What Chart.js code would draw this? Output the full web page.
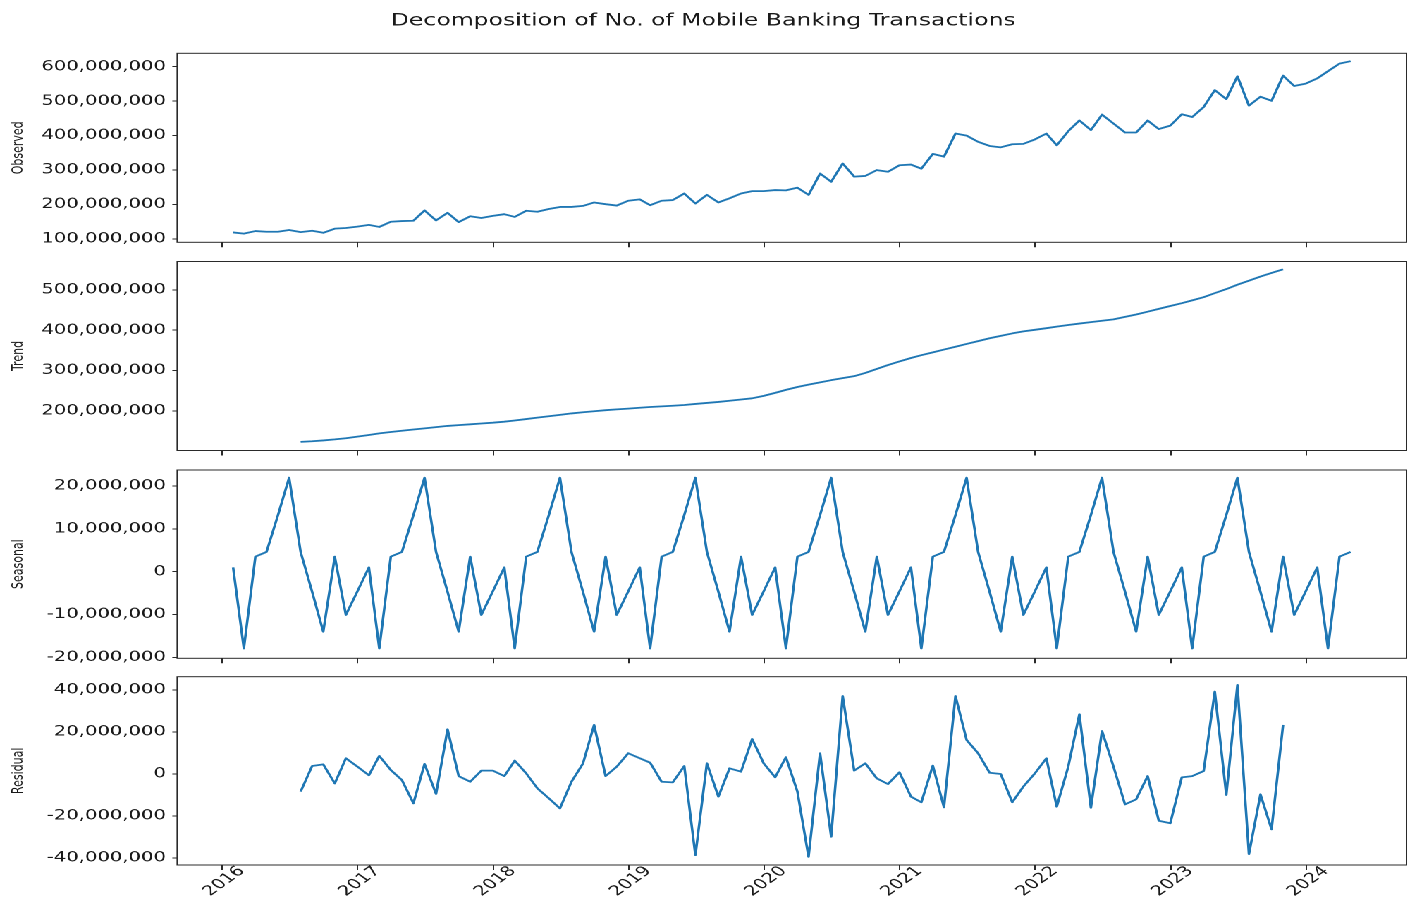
<!DOCTYPE html>
<html>
<head>
<meta charset="utf-8">
<script src="https://cdn.jsdelivr.net/npm/chart.js@4.4.1/dist/chart.umd.min.js"></script>
<style>
  html, body { margin: 0; padding: 0; background: #fff; }
  /* figure is laid out 1000px wide, then stretched to the page width */
  #fig { position: absolute; left: 0; top: 0; width: 1000px; height: 902px;
         transform: scaleX(1.41); transform-origin: 0 0; }
  #fig canvas { position: absolute; left: 0; top: 0; }
</style>
</head>
<body>
<div id="fig">
  <canvas id="observed" width="1000" height="902"></canvas>
  <canvas id="trend" width="1000" height="902"></canvas>
  <canvas id="seasonal" width="1000" height="902"></canvas>
  <canvas id="residual" width="1000" height="902"></canvas>
</div>
<script>
// monthly series, Jan 2016 .. Apr 2024 (values in millions of transactions)
var startYear = 2016
var monthCount = 100
var years = [2016, 2017, 2018, 2019, 2020, 2021, 2022, 2023, 2024]

var observed = [
  119, 115.5, 123, 121, 121, 126, 120, 124, 118, 130, 132, 136,
  141, 135, 150, 152, 153, 183, 154, 176, 149, 166, 161, 167,
  172, 164, 182, 179, 187, 193, 193, 196, 206, 201, 197, 211,
  215, 198, 211, 213, 232, 203, 228, 206, 218, 232, 239, 239,
  242, 241, 249, 228, 290, 266, 319, 281, 283, 300, 295, 314,
  316, 304, 347, 339, 406, 400, 382, 370, 366, 375, 376, 389,
  406, 372, 413, 444, 416, 461, 435, 409, 409, 444, 419, 429,
  462, 454, 483, 532, 506, 572, 487, 513, 501, 574, 544, 551,
  566, 587, 609, 616
]

// trend and residual start 6 months in (centred moving average)
var trendOffset = 6
var trend = [
  123, 124.5, 126.5, 129, 132, 136,
  140, 144, 147.5, 150.5, 153.5, 156.5, 159.5, 162.5, 164.5, 166.5, 168.5, 170.5,
  173, 176, 179.5, 183, 186.5, 190, 193.5, 196.5, 199, 201.5, 203.5, 205.5,
  207.5, 209.5, 211, 212.5, 214.5, 217, 219.5, 222, 225, 228, 231, 237,
  244.5, 252, 259, 265, 270.5, 276, 281, 286, 294, 304, 313.5, 322.5,
  331, 338, 345, 352, 359, 366, 373, 380, 386, 392, 397, 401,
  405, 409, 413, 416.5, 420, 423.5, 427, 433, 439, 446, 453, 460,
  467, 474, 482, 492, 502, 513, 523, 533, 542, 551
]

var seasonal = [
  1.0, -17.9, 3.5, 4.6, 13.2, 21.9, 4.6, -4.7, -14.0, 3.5, -10.1, -4.6,
  1.0, -17.9, 3.5, 4.6, 13.2, 21.9, 4.6, -4.7, -14.0, 3.5, -10.1, -4.6,
  1.0, -17.9, 3.5, 4.6, 13.2, 21.9, 4.6, -4.7, -14.0, 3.5, -10.1, -4.6,
  1.0, -17.9, 3.5, 4.6, 13.2, 21.9, 4.6, -4.7, -14.0, 3.5, -10.1, -4.6,
  1.0, -17.9, 3.5, 4.6, 13.2, 21.9, 4.6, -4.7, -14.0, 3.5, -10.1, -4.6,
  1.0, -17.9, 3.5, 4.6, 13.2, 21.9, 4.6, -4.7, -14.0, 3.5, -10.1, -4.6,
  1.0, -17.9, 3.5, 4.6, 13.2, 21.9, 4.6, -4.7, -14.0, 3.5, -10.1, -4.6,
  1.0, -17.9, 3.5, 4.6, 13.2, 21.9, 4.6, -4.7, -14.0, 3.5, -10.1, -4.6,
  1.0, -17.9, 3.5, 4.6
]

var residual = [
  -8.4, 3.8, 4.6, -4.5, 7.5, 3.5,
  -0.6, 8.6, 1.9, -2.9, -14, 4.8, -9.5, 21.3, -1, -3.7, 1.6, 1.6,
  -1, 6.4, 0.3, -6.8, -11.6, -16.4, -3.7, 5, 23.4, -1, 3.5, 9.9,
  7.5, 5.4, -3.7, -4, 3.8, -38.7, 5.1, -10.8, 2.7, 1.1, 16.7, 5.1,
  -1.6, 8, -8.4, -39.5, 9.9, -29.9, 37.2, 1.6, 5.1, -2.1, -4.8, 0.8,
  -10.8, -13.5, 4, -15.9, 37.2, 16.2, 9.9, 0.6, 0, -13.5, -6, 0.3,
  7.5, -15.6, 3.5, 28.5, -16.1, 20.5, 3.5, -14.5, -12.1, -1, -22.3, -23.5,
  -1.6, -1, 1.4, 39.3, -10, 42.5, -38.2, -9.7, -26.4, 23.4
]

var observedTicks = [100, 200, 300, 400, 500, 600]
var trendTicks = [200, 300, 400, 500]
var seasonalTicks = [-20, -10, 0, 10, 20]
var residualTicks = [-40, -20, 0, 20, 40]

var DAY = 86400000
var M = 1e6

// month-end dates as day numbers
function monthEnd(i) {
  var y = startYear + Math.floor(i / 12), m = i % 12
  return Date.UTC(y, m + 1, 0) / DAY
}

function toPoints(values, offset) {
  return values.map(function(v, k) {
    return { x: monthEnd(k + offset), y: v * M }
  })
}

var first = monthEnd(0), last = monthEnd(monthCount - 1)
var xMin = first - 0.05 * (last - first)
var xMax = last + 0.05 * (last - first)
var yearDays = years.map(function(y) { return Date.UTC(y, 0, 1) / DAY })

Chart.defaults.font.family = "'DejaVu Sans', sans-serif"
Chart.defaults.color = '#1a1a1a'

// box round each plot area
var framePlugin = {
  id: 'frame',
  afterDraw: function(chart) {
    var a = chart.chartArea, ctx = chart.ctx
    ctx.save()
    ctx.strokeStyle = '#2a2a2a'
    ctx.lineWidth = 1
    ctx.strokeRect(a.left, a.top, a.right - a.left, a.bottom - a.top)
    ctx.restore()
  }
}

function panel(id, name, points, yMin, yMax, ticks, top, bottom, isLast, title) {
  var xAxisH = isLast ? 36 : 6
  return new Chart(document.getElementById(id), {
    type: 'line',
    data: {
      datasets: [{
        data: points,
        borderColor: '#1f77b4',
        borderWidth: 1.8,
        borderJoinStyle: 'round',
        pointRadius: 0,
        tension: 0,
        fill: false
      }]
    },
    options: {
      responsive: false,
      animation: false,
      devicePixelRatio: 2,
      layout: {
        padding: { left: 0, right: 2.5, top: title ? 0 : top, bottom: 902 - bottom - xAxisH }
      },
      plugins: {
        legend: { display: false },
        tooltip: { enabled: false },
        title: {
          display: !!title,
          text: title,
          color: '#1a1a1a',
          font: { size: 16.7, weight: 'normal' },
          padding: { top: 11, bottom: top - 11 - 20.04 }
        }
      },
      scales: {
        x: {
          type: 'linear',
          min: xMin,
          max: xMax,
          afterBuildTicks: function(s) {
            s.ticks = yearDays.map(function(d) { return { value: d } })
          },
          afterFit: function(s) { s.height = xAxisH },
          border: { display: false },
          grid: { drawOnChartArea: false, tickLength: 5, color: '#2a2a2a' },
          ticks: {
            display: isLast,
            autoSkip: false,
            minRotation: 45,
            maxRotation: 45,
            labelOffset: 14,
            padding: -7,
            font: { size: 13.9 },
            callback: function(v) { return new Date(v * DAY).getUTCFullYear() }
          }
        },
        y: {
          min: yMin * M,
          max: yMax * M,
          afterBuildTicks: function(s) {
            s.ticks = ticks.map(function(t) { return { value: t * M } })
          },
          afterFit: function(s) { s.width = 125.7 },
          border: { display: false },
          grid: { drawOnChartArea: false, tickLength: 3.5, color: '#2a2a2a' },
          title: {
            display: true,
            text: name,
            font: { size: 11 },
            padding: { top: 6.5, bottom: 0 }
          },
          ticks: {
            padding: 4.5,
            font: { size: 13.9 },
            callback: function(v) { return Number(v).toLocaleString('en-US') }
          }
        }
      }
    },
    plugins: [framePlugin]
  })
}

panel('observed', 'Observed', toPoints(observed, 0), 90.4, 638.9, observedTicks, 53.3, 242.3, false,
  'Decomposition of No. of Mobile Banking Transactions')
panel('trend', 'Trend', toPoints(trend, trendOffset), 101.5, 570.5, trendTicks, 261.5, 450.5, false)
panel('seasonal', 'Seasonal', toPoints(seasonal, 0), -20.2, 23.7, seasonalTicks, 470, 658.3, false)
panel('residual', 'Residual', toPoints(residual, trendOffset), -43.4, 46.4, residualTicks, 676.7, 865, true)
</script>
</body>
</html>
